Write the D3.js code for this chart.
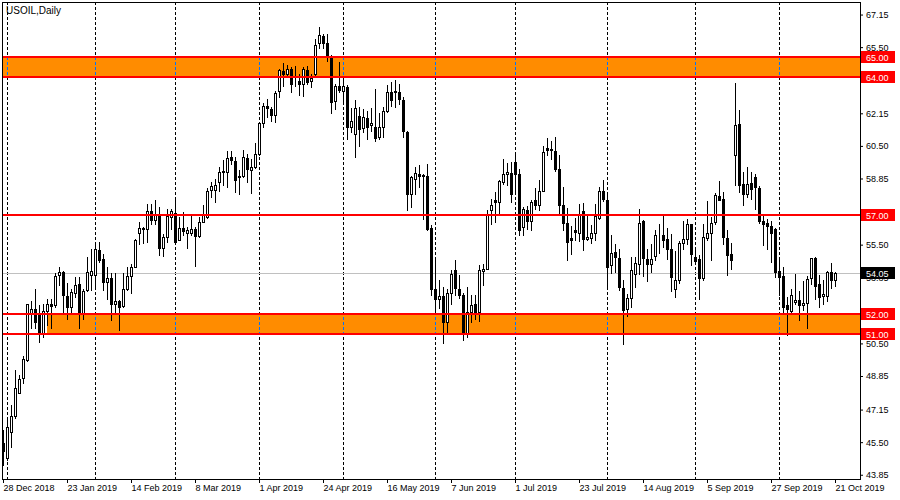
<!DOCTYPE html>
<html><head><meta charset="utf-8">
<script src="https://cdn.jsdelivr.net/npm/d3@7"></script>
<style>body{margin:0;background:#fff}svg{display:block}text{font-family:"Liberation Sans",Arial,sans-serif}</style>
</head><body><svg id="c" width="900" height="500"></svg>
<script>
const opens=[45.45,44.69,46.04,46.80,48.01,48.73,49.66,52.02,52.22,52.05,
51.01,52.15,52.52,52.44,53.95,54.12,52.89,52.35,53.06,53.53,
52.02,53.19,53.95,53.95,55.21,54.76,53.61,53.83,52.52,52.66,
52.39,53.23,53.93,54.37,56.11,56.29,56.31,57.18,56.73,57.07,
55.35,55.89,56.90,57.12,55.75,56.36,56.11,56.11,56.29,55.95,
56.66,56.90,58.28,58.28,58.66,59.17,59.17,59.96,59.76,58.92,
59.00,59.91,59.29,59.42,60.10,61.65,62.52,62.37,62.07,63.28,
64.30,64.14,64.39,63.67,63.80,63.63,64.34,63.77,64.14,65.69,
66.07,65.70,65.06,62.76,63.55,63.29,63.50,61.44,61.11,62.02,
61.41,61.91,61.56,61.44,60.94,61.44,62.25,63.24,63.23,63.24,
62.84,61.22,58.08,58.83,59.09,59.00,59.00,56.36,53.28,52.77,
52.89,51.59,53.03,54.24,53.28,52.94,51.01,52.10,52.52,52.10,
54.17,54.29,57.23,57.77,57.66,58.66,59.09,59.14,59.71,59.09,
56.39,57.27,56.70,57.77,57.49,58.24,60.38,60.30,60.26,59.31,
57.52,56.61,55.84,56.26,56.11,57.18,55.80,55.84,56.11,56.86,
58.21,57.77,54.46,55.13,54.84,53.33,52.22,52.82,54.00,54.54,
56.68,54.79,54.54,54.93,55.97,56.01,55.80,55.30,53.24,53.73,
55.60,55.80,56.53,54.86,54.76,53.83,55.85,56.11,56.65,57.94,
57.82,55.85,55.05,60.06,61.61,58.55,58.08,58.61,58.92,58.38,
56.70,56.60,56.44,56.29,54.15,53.90,52.44,52.15,52.61,52.72,
52.45,52.57,53.83,54.84,53.50,52.89,52.89,54.10,53.70];
const highs=[46.12,46.63,47.39,49.15,48.90,49.86,52.52,52.66,53.23,52.44,
52.49,52.77,52.77,54.09,54.37,54.15,53.56,53.28,53.87,53.87,
53.28,54.88,55.30,55.63,55.63,55.05,54.37,54.04,54.04,52.69,
54.04,54.37,54.54,55.80,56.65,56.39,57.54,57.54,57.74,57.40,
56.06,57.32,57.32,57.77,56.90,57.13,56.39,56.93,56.39,56.90,
57.49,58.38,58.66,58.82,59.42,59.79,60.23,60.26,59.93,59.29,
60.30,60.10,59.84,60.67,61.68,62.69,62.86,62.49,63.29,64.39,
64.71,64.59,64.47,64.56,64.14,64.47,64.56,64.14,65.90,66.53,
66.19,66.19,65.11,63.63,64.73,63.88,63.60,62.42,62.84,62.49,
62.37,62.28,62.42,63.38,62.15,62.49,63.60,63.75,63.85,63.63,
62.96,61.27,59.00,59.42,59.51,59.09,59.59,56.51,54.71,53.70,
53.36,53.23,54.24,54.74,53.95,53.03,53.36,52.94,52.94,54.46,
54.54,57.27,57.82,58.16,58.75,59.84,59.64,59.67,60.18,59.34,
57.40,57.44,57.74,58.38,58.78,60.47,60.89,60.77,60.94,60.06,
58.41,57.37,56.43,56.86,57.57,57.61,56.93,56.48,57.57,58.41,
58.75,58.04,55.97,55.52,55.30,53.70,52.99,54.88,54.88,57.32,
56.73,55.26,55.55,56.22,56.53,57.07,56.34,56.06,55.16,55.68,
56.68,56.81,56.56,55.30,54.96,56.53,57.69,56.90,58.11,58.70,
58.19,56.26,55.58,63.67,62.32,59.17,59.42,59.17,59.09,58.45,
56.93,56.81,56.70,56.34,54.76,54.37,52.86,53.28,54.00,53.16,
53.66,53.90,54.84,54.88,53.95,53.73,54.17,54.59,54.12];
const lows=[44.36,44.60,45.28,46.71,47.98,48.48,49.60,51.26,51.26,50.55,
50.80,51.43,51.26,52.35,53.45,52.10,51.76,52.10,52.86,51.26,
51.76,53.16,53.19,53.28,54.62,53.19,52.77,51.68,52.02,51.17,
52.35,53.19,53.03,54.37,55.55,55.58,55.63,56.53,56.56,54.96,
54.91,55.63,56.31,55.55,55.72,55.97,55.33,55.97,54.42,55.89,
56.65,56.86,57.91,57.66,58.24,58.50,58.41,59.59,58.16,58.08,
58.92,58.66,58.11,59.39,60.06,61.48,61.98,61.78,61.70,62.99,
63.55,64.00,63.21,63.55,63.09,63.04,63.63,63.46,64.10,65.48,
65.45,64.78,62.15,62.37,63.21,62.79,60.85,61.19,59.93,60.52,
61.19,60.85,61.27,60.77,60.85,60.94,62.20,62.54,62.49,62.62,
60.94,57.23,57.40,58.04,58.41,56.81,56.22,52.94,52.02,52.27,
50.50,51.09,52.52,52.94,52.82,50.67,50.84,51.59,51.76,51.65,
53.48,54.25,56.56,56.65,57.07,58.55,58.53,57.66,58.24,55.97,
55.97,56.31,56.22,57.32,57.23,58.21,60.06,59.84,59.22,57.10,
56.22,54.74,55.05,55.75,55.68,55.21,55.72,55.58,55.72,56.81,
57.71,53.36,54.07,54.12,53.19,50.45,51.88,52.32,53.36,54.00,
53.92,53.66,54.12,54.71,55.10,55.38,54.79,53.16,52.86,53.56,
55.30,55.55,54.49,54.54,52.77,53.73,55.75,54.74,56.53,57.74,
55.52,53.95,54.29,58.53,58.16,57.49,57.91,57.79,57.28,56.60,
55.47,55.30,54.62,53.87,52.94,52.02,50.92,52.02,52.49,51.68,
52.18,51.26,53.53,52.77,52.35,52.49,52.66,53.33,53.41];
const closes=[45.03,46.26,46.80,48.23,48.68,49.69,52.49,52.22,51.59,51.04,
52.15,52.52,52.39,53.90,54.12,52.94,52.32,53.08,53.45,52.02,
53.16,54.12,54.17,55.30,54.71,53.61,53.83,52.52,52.64,52.35,
53.24,53.90,54.37,55.75,56.36,56.36,57.18,56.73,56.98,55.35,
55.89,56.93,57.18,55.63,56.36,56.19,56.22,56.29,55.95,56.66,
57.02,58.21,58.45,58.50,59.17,59.22,59.89,59.79,58.75,59.00,
59.96,59.34,59.42,60.10,61.65,62.52,62.42,62.07,63.16,64.34,
64.14,64.39,63.63,63.70,63.63,64.39,63.72,63.92,65.62,66.12,
65.69,64.98,62.71,63.55,63.35,63.55,61.44,61.78,62.42,61.36,
61.95,61.48,61.68,60.90,61.48,62.28,63.24,62.82,63.29,62.86,
61.24,58.08,58.95,59.12,58.99,59.02,56.28,53.24,52.74,52.89,
51.59,53.06,54.00,53.33,52.94,51.01,52.10,52.44,52.02,54.20,
54.29,57.07,57.52,57.66,58.70,59.09,59.20,58.08,59.09,56.22,
57.32,56.70,57.64,57.49,58.24,60.21,60.30,60.32,59.31,57.52,
56.60,55.63,55.75,56.14,57.07,55.80,55.90,56.11,56.93,58.21,
57.79,54.37,55.10,54.88,53.36,52.18,52.82,54.20,54.59,56.61,
54.83,54.54,54.79,56.01,56.01,55.75,55.30,53.87,53.73,55.60,
55.80,56.53,55.05,54.69,53.83,55.90,56.11,56.61,58.01,57.77,
55.89,54.96,54.74,61.58,58.50,58.08,58.55,58.33,58.41,56.70,
56.56,56.46,56.09,54.12,53.87,52.35,52.22,52.94,52.72,52.45,
52.57,53.78,54.84,53.41,52.86,52.98,54.10,53.70,54.05];

const dateLabels=["28 Dec 2018","23 Jan 2019","14 Feb 2019","8 Mar 2019","1 Apr 2019","24 Apr 2019","16 May 2019","7 Jun 2019","1 Jul 2019","23 Jul 2019","14 Aug 2019","5 Sep 2019","27 Sep 2019","21 Oct 2019"];
const dateLabelBars=[0,16,32,48,64,80,96,112,128,144,160,176,192,208];
const monthStartBars=[1,23,43,64,85,108,128,151,173,194];
const yTickValues=[67.15,65.50,63.85,62.15,60.50,58.85,57.15,55.50,53.85,52.15,50.50,48.85,47.15,45.50,43.85];
const yTickHidden=[57.15,52.15];
const levels=[65,64,57,52,51];
const zoneLow=[64,51], zoneHigh=[65,52], zoneStartBar=[null,11];
const lastPrice=54.05;
const title="USOIL,Daily";

const svg=d3.select("#c");
const L=2,T=2,R=860,B=479;
const n=closes.length;
const x=d3.scaleLinear().domain([0,n-1]).range([3,3+4*(n-1)]);
const y=d3.scaleLinear().domain([43.61,67.76]).range([479.5,2.5]);

svg.append("rect").attr("width",900).attr("height",500).attr("fill","#fff");
svg.append("defs").append("clipPath").attr("id","pc").append("rect").attr("x",L).attr("y",T).attr("width",R-L).attr("height",B-T);
const g=svg.append("g").attr("clip-path","url(#pc)");

// zones
const zones=zoneLow.map((lo,i)=>({lo,hi:zoneHigh[i],s:zoneStartBar[i]}));
g.selectAll("rect.zone").data(zones).join("rect")
 .attr("x",d=>d.s==null?L:Math.round(x(d.s)))
 .attr("width",d=>R-(d.s==null?L:Math.round(x(d.s))))
 .attr("y",d=>Math.round(y(d.hi)))
 .attr("height",d=>Math.round(y(d.lo))-Math.round(y(d.hi)))
 .attr("fill","#FF8C00");

// grid (black dashed, blue where it crosses the orange zones)
g.selectAll("line.grid").data(monthStartBars).join("line")
 .attr("x1",d=>Math.round(x(d))+0.5).attr("x2",d=>Math.round(x(d))+0.5)
 .attr("y1",T).attr("y2",B).attr("stroke","#000").attr("stroke-dasharray","3,2");
zones.forEach(z=>{
  const y0=Math.round(y(z.hi)), y1=Math.round(y(z.lo));
  g.selectAll(null).data(monthStartBars.filter(b=>z.s==null||b>=z.s)).join("line")
   .attr("x1",d=>Math.round(x(d))+0.5).attr("x2",d=>Math.round(x(d))+0.5)
   .attr("y1",y0).attr("y2",y1)
   .attr("stroke","#0073FF").attr("stroke-dasharray","3,2")
   .attr("stroke-dashoffset",(y0-T)%5);
});

// current price line
g.append("line").attr("x1",L).attr("x2",R).attr("y1",Math.round(y(lastPrice))+0.5).attr("y2",Math.round(y(lastPrice))+0.5)
 .attr("stroke","#C0C0C0");

// candles
const idx=d3.range(n);
const cg=g.append("g");
cg.selectAll("rect.wick").data(idx).join("rect")
 .attr("x",i=>Math.round(x(i))).attr("width",1)
 .attr("y",i=>Math.round(y(highs[i])))
 .attr("height",i=>Math.max(1,Math.round(y(lows[i]))-Math.round(y(highs[i]))+1))
 .attr("fill","#000");
cg.selectAll("rect.body").data(idx).join("rect")
 .each(function(i){
   const up=closes[i]>=opens[i];
   const top=Math.round(y(Math.max(opens[i],closes[i])));
   const bot=Math.round(y(Math.min(opens[i],closes[i])));
   const cx=Math.round(x(i));
   const s=d3.select(this);
   if(up){
     s.attr("x",cx-0.5).attr("y",top+0.5).attr("width",2).attr("height",Math.max(0,bot-top))
      .attr("fill","#fff").attr("stroke","#000");
   } else {
     s.attr("x",cx-1).attr("y",top).attr("width",3).attr("height",Math.max(1,bot-top+1))
      .attr("fill","#000");
   }
 });

// red level lines
g.selectAll("rect.lvl").data(levels).join("rect")
 .attr("x",L).attr("width",R-L).attr("y",d=>Math.round(y(d))-1).attr("height",2).attr("fill","#FF0000");

// frame
svg.append("rect").attr("x",L+0.5).attr("y",T+0.5).attr("width",R-L).attr("height",B-T)
 .attr("fill","none").attr("stroke","#000");

// title
svg.append("text").attr("x",6).attr("y",14).attr("font-size",10).attr("fill","#000").text(title);

// y axis
const ya=svg.append("g").attr("transform",`translate(${R},0)`)
 .call(d3.axisRight(y).tickValues(yTickValues).tickSize(3).tickSizeOuter(0).tickPadding(3)
   .tickFormat(v=>yTickHidden.includes(v)?"":d3.format(".2f")(v)));
ya.select(".domain").remove();
ya.selectAll("text").attr("font-size",9).attr("font-family","Liberation Sans, Arial, sans-serif").attr("fill","#000");

// x axis
const xa=svg.append("g").attr("transform",`translate(0,${B})`)
 .call(d3.axisBottom(x).tickValues(dateLabelBars).tickSize(4).tickSizeOuter(0).tickFormat((d,i)=>dateLabels[i]));
xa.select(".domain").remove();
xa.selectAll("text").attr("font-size",9).attr("font-family","Liberation Sans, Arial, sans-serif")
 .attr("text-anchor","start").attr("x",0).attr("y",6).attr("fill","#000");

// price labels
const pl=svg.append("g");
const lab=levels.map(v=>({v,c:"#FF0000"})).concat([{v:lastPrice,c:"#000"}]);
pl.selectAll("rect").data(lab).join("rect")
 .attr("x",R+1).attr("width",34).attr("y",d=>Math.round(y(d.v))-6).attr("height",12).attr("fill",d=>d.c);
pl.selectAll("text").data(lab).join("text")
 .attr("x",R+6).attr("y",d=>Math.round(y(d.v))+3.5).attr("font-size",9).attr("fill","#fff")
 .text(d=>d3.format(".2f")(d.v));
</script></body></html>
